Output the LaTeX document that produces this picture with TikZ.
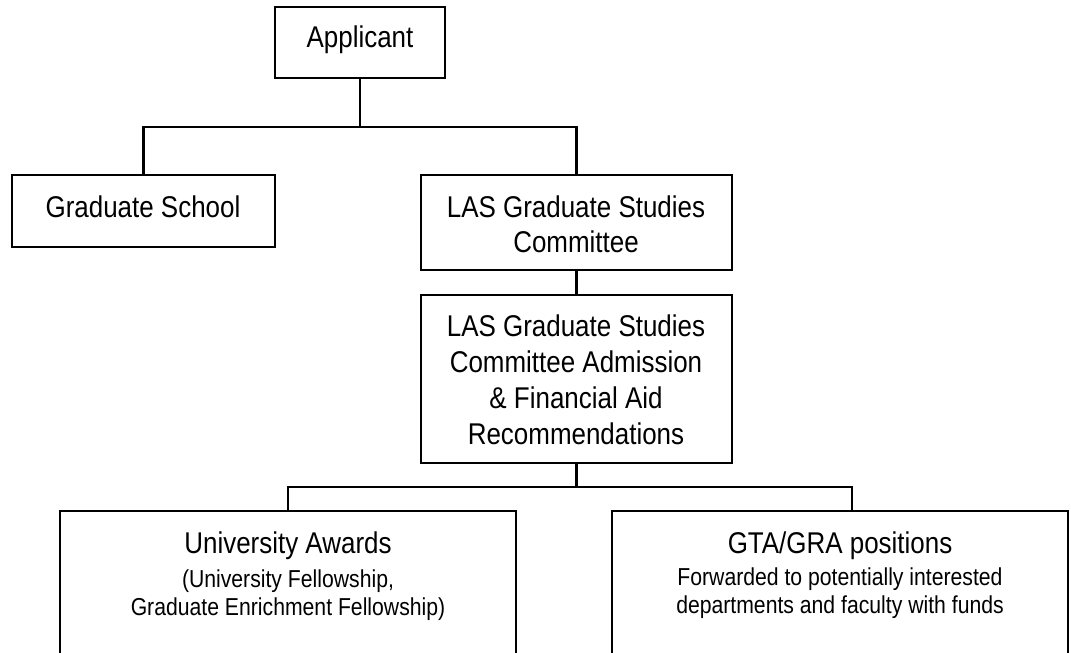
\documentclass[tikz,border=0pt]{standalone}
\usepackage{fontspec}
\setmainfont{Liberation Sans}[FakeStretch=0.865]
\begin{document}
\begin{tikzpicture}[x=1pt,y=-1pt,line width=2.8pt,
  box/.style={draw,line width=2.8pt,rectangle,inner sep=0pt,outer sep=0pt,anchor=north west},
  big/.style={font=\fontsize{30}{35}\selectfont,align=center,anchor=base,inner sep=0pt},
  bigg/.style={font=\fontsize{30}{36}\selectfont,align=center,anchor=base,inner sep=0pt},
  small/.style={font=\fontsize{24.5}{28}\selectfont,align=center,anchor=base,inner sep=0pt}]
\useasboundingbox (0,0) rectangle (1071,653);
% boxes
\node[box,minimum width=170pt,minimum height=71pt] (app) at (275,7) {};
\node[box,minimum width=263pt,minimum height=72pt] (gs) at (12,175) {};
\node[box,minimum width=311pt,minimum height=95pt] (las1) at (421,175) {};
\node[box,minimum width=311pt,minimum height=168pt] (las2) at (421,295) {};
\node[box,minimum width=456pt,minimum height=160pt] (ua) at (60,511) {};
\node[box,minimum width=456pt,minimum height=160pt] (gta) at (612,511) {};
% texts (anchor = baseline of last line)
\node[big] (appT) at (360,47) {Applicant};
\node[big] (gsT) at (143,217) {Graduate School};
\node[big] (las1T) at (576,252) {LAS Graduate Studies\\Committee};
\node[bigg] (las2T) at (576,444) {LAS Graduate Studies\\Committee Admission\\\& Financial Aid\\Recommendations};
\node[big] (uaT) at (288,553) {University Awards};
\node[small] (uaS) at (288,615) {(University Fellowship,\\Graduate Enrichment Fellowship)};
\node[big] (gtaT) at (840,553) {GTA/GRA positions};
\node[small] (gtaS) at (840,613) {Forwarded to potentially interested\\departments and faculty with funds};
% connectors
\coordinate (j1) at (app.south |- 0,127);
\coordinate (j2) at (las2.south |- 0,487);
\draw (app.south) -- (j1);
\draw (gs.north) |- (j1) -| (las1.north);
\draw (las1.south) -- (las2.north);
\draw (las2.south) -- (j2);
\draw (ua.north) |- (j2) -| ([xshift=12pt]gta.north);
\end{tikzpicture}
\end{document}
